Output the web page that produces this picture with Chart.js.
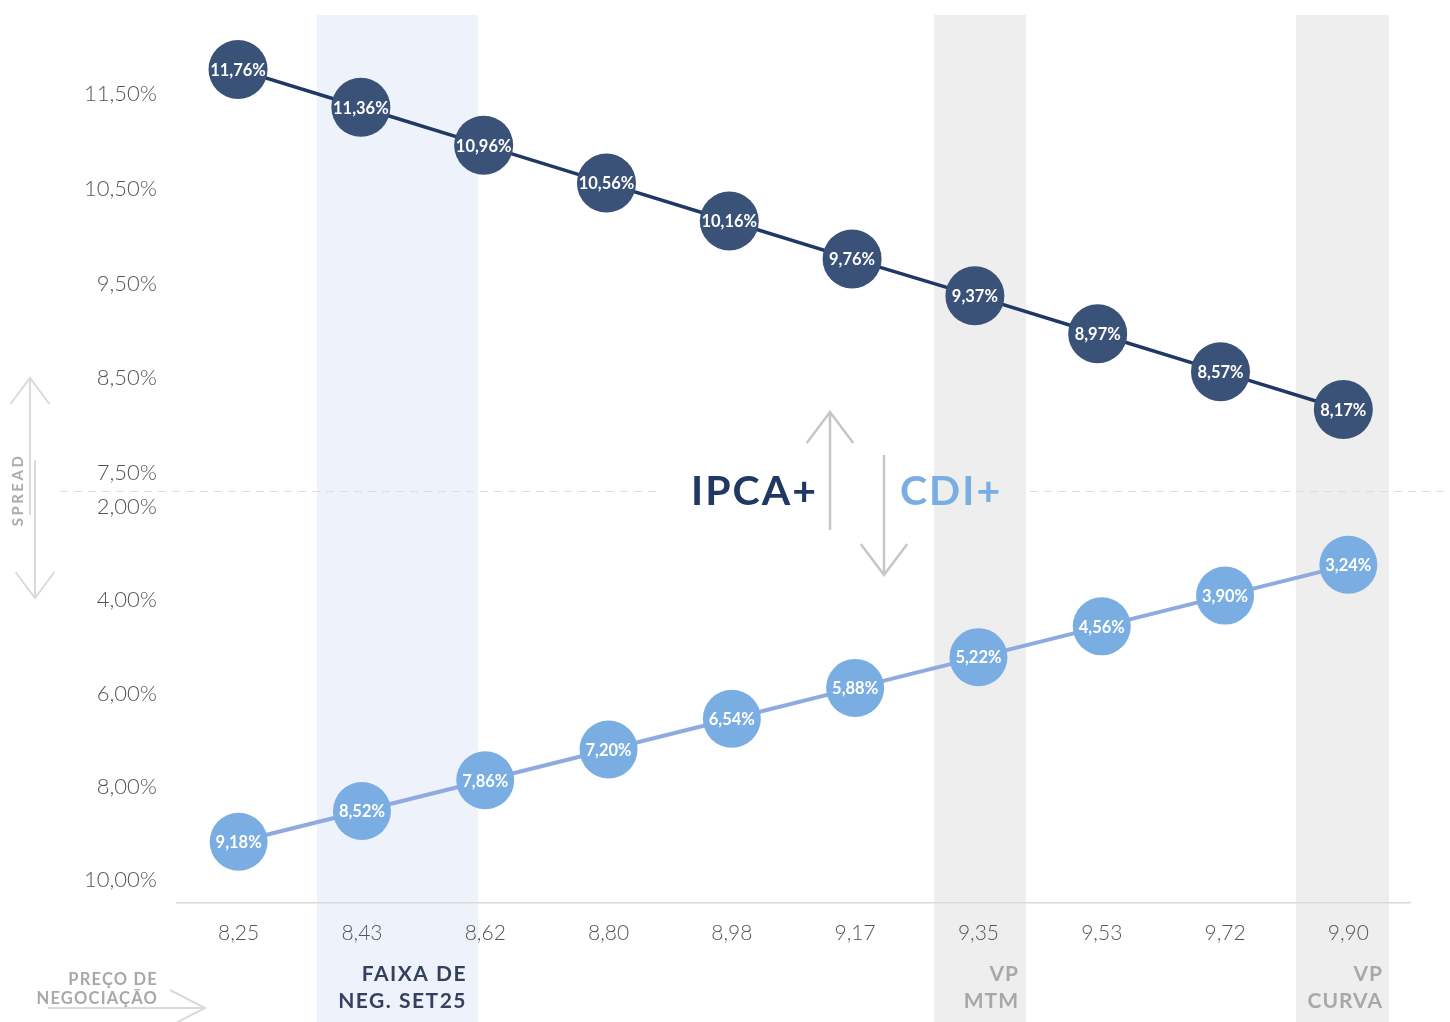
<!DOCTYPE html>
<html><head><meta charset="utf-8">
<script src="https://cdn.jsdelivr.net/npm/chart.js@4/dist/chart.umd.min.js"></script>
<style>html,body{margin:0;padding:0;background:#fff;}canvas{display:block;}</style>
</head><body>
<canvas id="c" width="1450" height="1022"></canvas>
<script>
const precos = ['8,25','8,43','8,62','8,80','8,98','9,17','9,35','9,53','9,72','9,90'];
const ipca = [11.76, 11.36, 10.96, 10.56, 10.16, 9.76, 9.37, 8.97, 8.57, 8.17];
const cdi = [9.18, 8.52, 7.86, 7.20, 6.54, 5.88, 5.22, 4.56, 3.90, 3.24];
const ipcaTicks = [11.5, 10.5, 9.5, 8.5, 7.5];
const cdiTicks = [2, 4, 6, 8, 10];

const bands = [
  {from: 0.635, to: 1.941, color: '#eef2fa'},
  {from: 5.64, to: 6.386, color: '#eeeeee'},
  {from: 8.575, to: 9.33, color: '#eeeeee'}
];
const fmt = v => v.toFixed(2).replace('.', ',') + '%';
const FONT = 'Lato, "Open Sans", sans-serif';

function bandPx(scale, f) {
  const p0 = scale.getPixelForValue(0), p1 = scale.getPixelForValue(1);
  return p0 + f * (p1 - p0);
}
function arrow(ctx, x, y1, y2, head, up) {
  ctx.beginPath();
  ctx.moveTo(x, y1); ctx.lineTo(x, y2);
  const tip = up ? y1 : y2, d = up ? head : -head;
  ctx.moveTo(x - head * 0.75, tip + d); ctx.lineTo(x, tip); ctx.lineTo(x + head * 0.75, tip + d);
  ctx.stroke();
}

const deco = {
  id: 'deco',
  beforeDraw(chart) {
    const ctx = chart.ctx, xs = chart.scales.x, top = chart.chartArea.top;
    ctx.save();
    bands.forEach(b => {
      const l = bandPx(xs, b.from), r = bandPx(xs, b.to);
      ctx.fillStyle = b.color;
      ctx.fillRect(l, top, r - l, chart.height - top);
    });
    ctx.strokeStyle = '#dcdcdc'; ctx.lineWidth = 1; ctx.setLineDash([8, 6]);
    ctx.beginPath(); ctx.moveTo(60, 491.5); ctx.lineTo(662, 491.5);
    ctx.moveTo(1030, 491.5); ctx.lineTo(1450, 491.5); ctx.stroke();
    ctx.setLineDash([]);
    ctx.restore();
  },
  beforeDatasetsDraw(chart) {
    const ctx = chart.ctx;
    ctx.save();
    ctx.fillStyle = '#555'; ctx.font = '300 22px ' + FONT;
    ctx.textAlign = 'right'; ctx.textBaseline = 'middle';
    const yI = chart.scales.yI, yC = chart.scales.yC;
    ipcaTicks.forEach(v => ctx.fillText(fmt(v), 157, yI.getPixelForValue(v)));
    cdiTicks.forEach(v => ctx.fillText(fmt(v), 157, yC.getPixelForValue(v)));
    ctx.restore();
  },
  afterDatasetsDraw(chart) {
    const ctx = chart.ctx;
    ctx.save();
    ctx.fillStyle = '#fff'; ctx.font = 'bold 16.5px ' + FONT;
    ctx.textAlign = 'center'; ctx.textBaseline = 'middle';
    chart.data.datasets.forEach((ds, di) => {
      const meta = chart.getDatasetMeta(di);
      const vals = di === 0 ? ipca : cdi;
      meta.data.forEach((pt, i) => ctx.fillText(fmt(vals[i]), pt.x, pt.y + 1));
    });
    ctx.font = 'bold 41px ' + FONT; ctx.textAlign = 'left';
    ctx.letterSpacing = '2px';
    ctx.fillStyle = '#1f3864'; ctx.fillText('IPCA+', 691, 492);
    ctx.fillStyle = '#7aaee2'; ctx.fillText('CDI+', 900, 492);
    ctx.letterSpacing = '0px';
    ctx.strokeStyle = '#c6c6c6'; ctx.lineWidth = 2.5;
    arrow(ctx, 830, 412, 530, 31, true);
    arrow(ctx, 884, 455, 575, 31, false);
    ctx.strokeStyle = '#dadada'; ctx.lineWidth = 2;
    arrow(ctx, 30, 378, 515, 26, true);
    arrow(ctx, 35, 460, 598, 26, false);
    ctx.beginPath(); ctx.moveTo(48, 1008); ctx.lineTo(205, 1008);
    ctx.moveTo(170, 990); ctx.lineTo(205, 1008); ctx.lineTo(170, 1026); ctx.stroke();
    ctx.save(); ctx.translate(18, 491); ctx.rotate(-Math.PI / 2);
    ctx.fillStyle = '#ababab'; ctx.font = 'bold 15px ' + FONT; ctx.textAlign = 'center';
    ctx.letterSpacing = '2.5px';
    ctx.fillText('SPREAD', 1, 0); ctx.restore();
    ctx.textAlign = 'right';
    ctx.letterSpacing = '1.2px';
    ctx.fillStyle = '#a8a8a8'; ctx.font = 'bold 16.5px ' + FONT;
    ctx.fillText('PREÇO DE', 158, 980); ctx.fillText('NEGOCIAÇÃO', 158, 999);
    ctx.font = 'bold 21px ' + FONT;
    ctx.letterSpacing = '1.5px';
    ctx.fillStyle = '#34405e';
    ctx.fillText('FAIXA DE', 467, 974); ctx.fillText('NEG. SET25', 467, 1001);
    ctx.letterSpacing = '1px';
    ctx.fillStyle = '#a8a8a8';
    ctx.fillText('VP', 1019, 974); ctx.fillText('MTM', 1019, 1001);
    ctx.fillText('VP', 1383, 974); ctx.fillText('CURVA', 1383, 1001);
    ctx.restore();
  }
};

new Chart(document.getElementById('c'), {
  type: 'line',
  data: {
    labels: precos,
    datasets: [
      {
        label: 'IPCA+', data: ipca.map((v, i) => ({x: i, y: v})),
        xAxisID: 'xI', yAxisID: 'yI',
        borderColor: '#1f3864', borderWidth: 3.5,
        pointRadius: 29.5, pointBackgroundColor: '#3b5278', pointBorderWidth: 0,
        pointHoverRadius: 29.5, tension: 0, clip: false
      },
      {
        label: 'CDI+', data: cdi,
        xAxisID: 'x', yAxisID: 'yC',
        borderColor: '#8eaadf', borderWidth: 4,
        pointRadius: 29, pointBackgroundColor: '#7aaee2', pointBorderWidth: 0,
        pointHoverRadius: 29, tension: 0, clip: false
      }
    ]
  },
  options: {
    responsive: false, animation: false,
    layout: {autoPadding: false, padding: {left: 177, right: 40, top: 15, bottom: 0}},
    plugins: {legend: {display: false}, tooltip: {enabled: false}},
    events: [],
    scales: {
      x: {
        type: 'category', offset: true,
        grid: {display: false, drawTicks: false},
        border: {display: true, color: '#d9d9d9', width: 1.5},
        ticks: {color: '#555', font: {family: FONT, size: 21, weight: 300}, padding: 18},
        afterFit(s) { s.height = 119; }
      },
      xI: {type: 'linear', display: false, min: -0.497, max: 9.543},
      yI: {type: 'linear', display: false, min: 2.962, max: 12.334},
      yC: {type: 'linear', display: false, reverse: true, min: -8.552, max: 10.493}
    }
  },
  plugins: [deco]
});
</script>
</body></html>
